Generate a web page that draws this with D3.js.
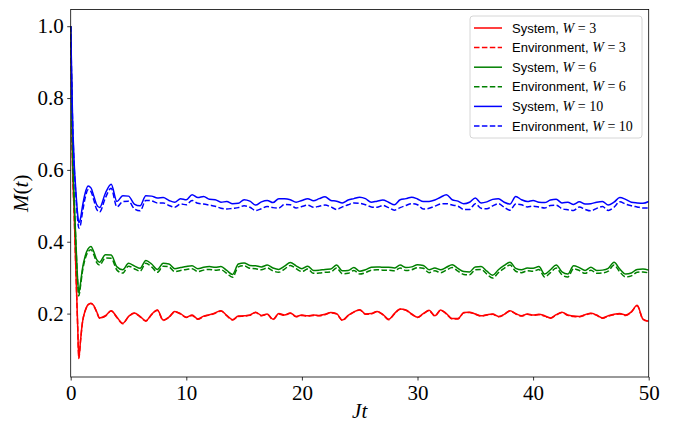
<!DOCTYPE html>
<html>
<head>
<meta charset="utf-8">
<script src="https://cdn.jsdelivr.net/npm/d3@7"></script>
<style>
  html, body { margin: 0; padding: 0; background: #fff; }
  svg { display: block; }
</style>
</head>
<body>
<div id="chart"></div>
<script>
/* time grid (Jt) */
var times = [0, 0.15, 0.3, 0.45, 0.6, 0.7, 0.85, 1, 1.25, 1.5, 1.75, 2, 2.25, 2.5,
  3, 3.5, 4, 4.5, 5, 5.5, 6, 6.5, 7, 7.5, 8, 8.5, 9, 9.5, 10,
  10.5, 11, 11.5, 12, 12.5, 13, 13.5, 14, 14.5, 15,
  15.5, 16, 16.5, 17, 17.5, 18, 18.5, 19, 19.5, 20,
  20.5, 21, 21.5, 22, 22.5, 23, 23.5, 24, 24.5, 25,
  25.5, 26, 26.5, 27, 27.5, 28, 28.5, 29, 29.5, 30,
  30.5, 31, 31.5, 32, 32.5, 33, 33.5, 34, 34.5, 35,
  35.5, 36, 36.5, 37, 37.5, 38, 38.5, 39, 39.5, 40,
  40.5, 41, 41.5, 42, 42.5, 43, 43.5, 44, 44.5, 45,
  45.5, 46, 46.5, 47, 47.5, 48, 48.5, 49, 49.5, 50];

var sysW3 = [1.0, 0.63, 0.48, 0.32, 0.17, 0.076, 0.125, 0.172, 0.208, 0.225, 0.229, 0.222, 0.205, 0.188,
  0.194, 0.208, 0.19, 0.173, 0.192, 0.202, 0.192, 0.18, 0.198, 0.21, 0.182, 0.19, 0.206, 0.2, 0.19,
  0.196, 0.185, 0.193, 0.197, 0.202, 0.208, 0.195, 0.183, 0.193, 0.194,
  0.196, 0.204, 0.195, 0.199, 0.184, 0.2, 0.196, 0.202, 0.192, 0.196,
  0.194, 0.196, 0.195, 0.198, 0.203, 0.2, 0.182, 0.195, 0.205, 0.211,
  0.199, 0.2, 0.206, 0.198, 0.184, 0.2, 0.213, 0.21, 0.199, 0.19,
  0.2, 0.209, 0.194, 0.21, 0.2, 0.186, 0.186, 0.203, 0.204, 0.199,
  0.194, 0.197, 0.199, 0.192, 0.198, 0.208, 0.2, 0.194, 0.199, 0.196,
  0.198, 0.194, 0.188, 0.197, 0.204, 0.196, 0.193, 0.192, 0.197, 0.201,
  0.196, 0.188, 0.194, 0.198, 0.2, 0.196, 0.205, 0.223, 0.185, 0.179];

var envW3 = [1.0, 0.628, 0.478, 0.318, 0.168, 0.075, 0.124, 0.171, 0.207, 0.224, 0.228, 0.221, 0.204, 0.187,
  0.193, 0.207, 0.189, 0.172, 0.191, 0.201, 0.191, 0.179, 0.197, 0.209, 0.181, 0.189, 0.205, 0.199, 0.189,
  0.195, 0.184, 0.192, 0.196, 0.201, 0.207, 0.194, 0.182, 0.192, 0.193,
  0.195, 0.203, 0.194, 0.198, 0.183, 0.199, 0.195, 0.201, 0.191, 0.195,
  0.193, 0.195, 0.194, 0.197, 0.202, 0.199, 0.181, 0.194, 0.204, 0.21,
  0.198, 0.199, 0.205, 0.197, 0.183, 0.199, 0.212, 0.209, 0.198, 0.189,
  0.199, 0.208, 0.193, 0.209, 0.199, 0.185, 0.185, 0.202, 0.203, 0.198,
  0.193, 0.196, 0.198, 0.191, 0.197, 0.207, 0.199, 0.193, 0.198, 0.195,
  0.197, 0.193, 0.187, 0.196, 0.203, 0.195, 0.192, 0.191, 0.196, 0.2,
  0.195, 0.187, 0.193, 0.197, 0.199, 0.195, 0.204, 0.222, 0.184, 0.178];

var sysW6 = [1.0, 0.67, 0.52, 0.4, 0.295, 0.257, 0.285, 0.322, 0.36, 0.38, 0.387, 0.372, 0.35, 0.343,
  0.364, 0.363, 0.33, 0.322, 0.34, 0.333, 0.326, 0.348, 0.338, 0.323, 0.34, 0.338, 0.325, 0.328, 0.331,
  0.333, 0.325, 0.329, 0.331, 0.329, 0.331, 0.32, 0.309, 0.338, 0.341,
  0.334, 0.333, 0.33, 0.335, 0.327, 0.323, 0.332, 0.342, 0.333, 0.325,
  0.332, 0.32, 0.321, 0.323, 0.324, 0.335, 0.319, 0.32, 0.328, 0.318,
  0.322, 0.329, 0.33, 0.329, 0.329, 0.327, 0.335, 0.328, 0.33, 0.336,
  0.334, 0.322, 0.327, 0.322, 0.329, 0.336, 0.326, 0.317, 0.316, 0.33,
  0.331, 0.318, 0.307, 0.322, 0.334, 0.343, 0.326, 0.322, 0.327, 0.326,
  0.331, 0.31, 0.322, 0.335, 0.316, 0.31, 0.333, 0.328, 0.32, 0.329,
  0.32, 0.321, 0.326, 0.343, 0.324, 0.31, 0.313, 0.323, 0.324, 0.321];

var envW6 = [1.0, 0.665, 0.515, 0.395, 0.288, 0.249, 0.277, 0.314, 0.352, 0.372, 0.378, 0.364, 0.342, 0.335,
  0.355, 0.354, 0.321, 0.313, 0.332, 0.325, 0.318, 0.34, 0.33, 0.315, 0.332, 0.33, 0.317, 0.32, 0.323,
  0.325, 0.317, 0.321, 0.323, 0.321, 0.322, 0.312, 0.301, 0.33, 0.333,
  0.326, 0.325, 0.322, 0.327, 0.319, 0.315, 0.324, 0.334, 0.325, 0.317,
  0.324, 0.312, 0.313, 0.315, 0.316, 0.327, 0.311, 0.312, 0.32, 0.31,
  0.314, 0.321, 0.322, 0.321, 0.321, 0.319, 0.327, 0.32, 0.322, 0.328,
  0.326, 0.314, 0.319, 0.314, 0.321, 0.328, 0.318, 0.309, 0.308, 0.322,
  0.323, 0.31, 0.299, 0.314, 0.326, 0.335, 0.318, 0.314, 0.319, 0.318,
  0.323, 0.302, 0.314, 0.327, 0.308, 0.302, 0.325, 0.32, 0.312, 0.321,
  0.312, 0.313, 0.318, 0.335, 0.316, 0.302, 0.305, 0.315, 0.316, 0.313];

var sysW10 = [1.0, 0.76, 0.62, 0.54, 0.477, 0.453, 0.465, 0.495, 0.535, 0.555, 0.55, 0.527, 0.503, 0.495,
  0.535, 0.56, 0.512, 0.528, 0.527, 0.505, 0.5, 0.528, 0.527, 0.522, 0.523, 0.515, 0.51, 0.52, 0.517,
  0.531, 0.523, 0.526, 0.518, 0.517, 0.51, 0.512, 0.506, 0.507, 0.517,
  0.513, 0.502, 0.511, 0.515, 0.509, 0.52, 0.52, 0.517, 0.51, 0.515,
  0.52, 0.514, 0.52, 0.525, 0.515, 0.513, 0.508, 0.516, 0.52, 0.524,
  0.52, 0.51, 0.513, 0.516, 0.51, 0.503, 0.517, 0.52, 0.524, 0.519,
  0.512, 0.512, 0.516, 0.524, 0.531, 0.517, 0.513, 0.506, 0.51, 0.522,
  0.508, 0.511, 0.518, 0.52, 0.51, 0.505, 0.526, 0.517, 0.512, 0.515,
  0.51, 0.509, 0.516, 0.518, 0.508, 0.51, 0.504, 0.511, 0.505, 0.506,
  0.51, 0.512, 0.502, 0.51, 0.523, 0.518, 0.51, 0.508, 0.507, 0.512];

var envW10 = [1.0, 0.75, 0.61, 0.528, 0.462, 0.438, 0.447, 0.478, 0.522, 0.545, 0.54, 0.516, 0.49, 0.483,
  0.522, 0.549, 0.497, 0.512, 0.513, 0.492, 0.486, 0.515, 0.514, 0.508, 0.508, 0.501, 0.496, 0.505, 0.503,
  0.515, 0.507, 0.505, 0.502, 0.499, 0.493, 0.491, 0.493, 0.495, 0.5,
  0.496, 0.487, 0.492, 0.498, 0.495, 0.494, 0.504, 0.503, 0.494, 0.498,
  0.502, 0.496, 0.499, 0.502, 0.497, 0.49, 0.497, 0.503, 0.508, 0.507,
  0.503, 0.497, 0.496, 0.501, 0.495, 0.488, 0.495, 0.501, 0.506, 0.503,
  0.491, 0.493, 0.499, 0.505, 0.506, 0.502, 0.499, 0.49, 0.49, 0.506,
  0.493, 0.492, 0.5, 0.506, 0.496, 0.488, 0.505, 0.503, 0.497, 0.499,
  0.497, 0.494, 0.501, 0.502, 0.492, 0.489, 0.487, 0.497, 0.49, 0.486,
  0.493, 0.498, 0.487, 0.496, 0.511, 0.505, 0.5, 0.497, 0.494, 0.494];

var xTicks = [0, 10, 20, 30, 40, 50];
var yTicks = [0.2, 0.4, 0.6, 0.8, 1.0];

var seriesNames = ["System", "Environment", "System", "Environment", "System", "Environment"];
var seriesW = ["3", "3", "6", "6", "10", "10"];
var seriesColors = ["#ff0000", "#ff0000", "#008000", "#008000", "#0000ff", "#0000ff"];
var seriesDashed = [false, true, false, true, false, true];
var seriesValues = [sysW3, envW3, sysW6, envW6, sysW10, envW10];

(function () {
  var W = 673, H = 424;
  var ml = 70.7, mr = 24.3, mt = 9.5, mb = 47;
  var iw = W - ml - mr, ih = H - mt - mb;
  var serif = "'Liberation Serif', 'DejaVu Serif', serif";
  var sans = "'Liberation Sans', Arial, sans-serif";

  var svg = d3.select("#chart").append("svg")
    .attr("width", W).attr("height", H)
    .style("background", "#fff");

  var x = d3.scaleLinear().domain([0, 50]).range([0, iw]);
  var y = d3.scaleLinear().domain([0.0235, 1.0465]).range([ih, 0]);

  var g = svg.append("g").attr("transform", "translate(" + ml + "," + mt + ")");

  g.append("clipPath").attr("id", "clip")
    .append("rect").attr("width", iw).attr("height", ih);

  /* ---- Lines ---- */
  var line = d3.line()
    .x(function (d) { return x(d[0]); })
    .y(function (d) { return y(d[1]); })
    .curve(d3.curveMonotoneX);

  var plot = g.append("g").attr("clip-path", "url(#clip)");
  seriesValues.forEach(function (vals, i) {
    var pts = times.map(function (t, k) { return [t, vals[k]]; });
    plot.append("path")
      .attr("d", line(pts))
      .attr("fill", "none")
      .attr("stroke", seriesColors[i])
      .attr("stroke-width", 1.5)
      .attr("stroke-linejoin", "round")
      .attr("stroke-dasharray", seriesDashed[i] ? "5.5,2.4" : null);
  });

  /* ---- Axes ---- */
  var xAxis = g.append("g").attr("transform", "translate(0," + ih + ")")
    .call(d3.axisBottom(x).tickValues(xTicks).tickSize(3.5).tickPadding(3.5)
      .tickFormat(d3.format("d")));
  var yAxis = g.append("g")
    .call(d3.axisLeft(y).tickValues(yTicks).tickSize(3.5).tickPadding(3.5)
      .tickFormat(d3.format(".1f")));

  [xAxis, yAxis].forEach(function (a) {
    a.select(".domain").remove();
    a.selectAll(".tick line").attr("stroke", "#000").attr("stroke-width", 0.8);
    a.selectAll(".tick text")
      .attr("fill", "#000")
      .style("font-family", serif)
      .style("font-size", "21px");
  });
  xAxis.selectAll(".tick text").attr("dy", "0.78em");

  /* frame */
  g.append("rect")
    .attr("width", iw).attr("height", ih)
    .attr("fill", "none").attr("stroke", "#000").attr("stroke-width", 0.8);

  /* axis labels */
  var xl = svg.append("text")
    .attr("x", ml + iw / 2).attr("y", 418)
    .attr("text-anchor", "middle")
    .style("font-family", serif).style("font-size", "21px").style("font-style", "italic");
  xl.text("Jt");

  var yl = svg.append("text")
    .attr("transform", "translate(28," + (mt + ih / 2) + ") rotate(-90)")
    .attr("text-anchor", "middle")
    .style("font-family", serif).style("font-size", "21px");
  yl.append("tspan").style("font-style", "italic").text("M");
  yl.append("tspan").text("(");
  yl.append("tspan").style("font-style", "italic").text("t");
  yl.append("tspan").text(")");

  /* ---- Legend ---- */
  var lg = svg.append("g").attr("transform", "translate(470,16)");
  lg.append("rect")
    .attr("width", 172).attr("height", 122).attr("rx", 3)
    .attr("fill", "#fff").attr("fill-opacity", 0.8)
    .attr("stroke", "#cccccc").attr("stroke-width", 0.8);

  seriesNames.forEach(function (name, i) {
    var ry = 12 + i * 19.6;
    lg.append("line")
      .attr("x1", 4).attr("x2", 32).attr("y1", ry).attr("y2", ry)
      .attr("stroke", seriesColors[i]).attr("stroke-width", 1.5)
      .attr("stroke-dasharray", seriesDashed[i] ? "5.5,2.4" : null);
    var t = lg.append("text")
      .attr("x", 42).attr("y", ry + 4.5)
      .style("font-family", sans).style("font-size", "13px").attr("fill", "#000");
    t.append("tspan").text(name + ", ");
    t.append("tspan").style("font-family", serif).style("font-style", "italic")
      .style("font-size", "14px").text("W");
    t.append("tspan").style("font-family", serif).style("font-size", "14px")
      .text(" = " + seriesW[i]);
  });
})();
</script>
</body>
</html>
